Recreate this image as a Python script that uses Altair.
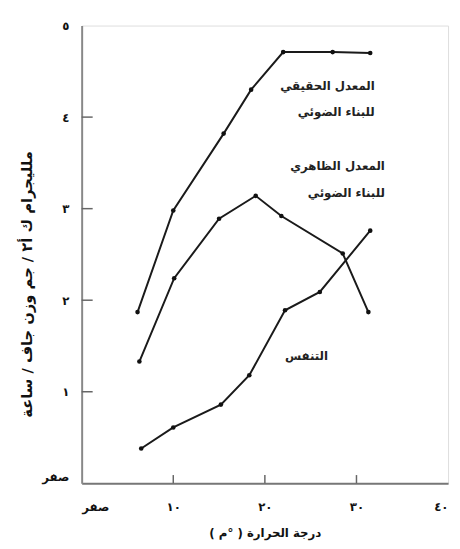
import altair as alt
import pandas as pd

# Data
true_x = [6.1, 10.0, 15.5, 18.5, 22.0, 27.4, 31.5]
true_y = [1.87, 2.98, 3.82, 4.30, 4.71, 4.71, 4.70]

app_x = [6.3, 10.1, 15.0, 19.0, 21.8, 28.5, 31.3]
app_y = [1.33, 2.24, 2.89, 3.14, 2.92, 2.51, 1.87]

resp_x = [6.5, 10.0, 15.2, 18.3, 22.2, 26.0, 31.5]
resp_y = [0.38, 0.61, 0.86, 1.18, 1.89, 2.09, 2.76]

x_ticks = [0, 10, 20, 30, 40]
x_tick_labels = ["صفر", "١٠", "٢٠", "٣٠", "٤٠"]
y_ticks = [0, 1, 2, 3, 4, 5]
y_tick_labels = ["صفر", "١", "٢", "٣", "٤", "٥"]

ann_text = ["المعدل الحقيقي", "للبناء الضوئي", "المعدل الظاهري", "للبناء الضوئي", "التنفس"]
ann_x = [32.0, 32.0, 33.1, 33.1, 26.9]
ann_y = [4.34, 4.06, 3.46, 3.17, 1.39]

x_title = "درجة الحرارة ( °م )"
y_title = "ملليجرام ك أ٢ / جم وزن جاف / ساعة"

FONT = "DejaVu Sans"

rows = []
for name, xs, ys in [("true", true_x, true_y), ("app", app_x, app_y), ("resp", resp_x, resp_y)]:
    for a, b in zip(xs, ys):
        rows.append({"series": name, "t": a, "v": b})
df = pd.DataFrame(rows)

def label_expr(vals, labs):
    expr = "''"
    for v, l in reversed(list(zip(vals, labs))):
        expr = f"datum.value == {v} ? '{l}' : ({expr})"
    return expr

xscale = alt.Scale(domain=[0, 40], nice=False, zero=True)
yscale = alt.Scale(domain=[0, 5], nice=False, zero=True)

x_axis = alt.Axis(values=x_ticks, labelExpr=label_expr(x_ticks, x_tick_labels),
                  ticks=False, grid=False, labelPadding=19, labelFont=FONT,
                  labelFontSize=12, labelFontWeight="bold", labelColor="#111",
                  domainColor="#777", domainWidth=2,
                  title=x_title, titleFont=FONT, titleFontSize=12, titleFontWeight="bold",
                  titleColor="#111", titleY=50, titleBaseline="middle")
y_axis = alt.Axis(values=y_ticks, labelExpr=label_expr(y_ticks, y_tick_labels),
                  ticks=False, grid=False, labelPadding=13, labelFont=FONT,
                  labelFontSize=12, labelFontWeight="bold", labelColor="#111",
                  labelBaseline={"condition": {"test": "datum.value == 0", "value": "bottom"}, "value": "middle"},
                  domainColor="#888", domainWidth=2,
                  title=y_title, titleFont=FONT, titleFontSize=15, titleFontWeight="bold",
                  titleColor="#111", titleX=-56, titleY=263, titleBaseline="middle")

base = alt.Chart(df)
lines = base.mark_line(color="#1a1a1a", strokeWidth=2).encode(
    x=alt.X("t:Q", scale=xscale, axis=x_axis),
    y=alt.Y("v:Q", scale=yscale, axis=y_axis),
    detail="series:N",
)
points = base.mark_circle(color="#111", size=22, opacity=1).encode(
    x=alt.X("t:Q", scale=xscale),
    y=alt.Y("v:Q", scale=yscale),
)

xt = pd.DataFrame({"t": x_ticks[1:4], "v0": [0] * 3, "v1": [0.09] * 3})
yt = pd.DataFrame({"t0": [0] * 4, "t1": [1.2] * 4, "v": y_ticks[1:5]})
xtick_rules = alt.Chart(xt).mark_rule(color="#666", strokeWidth=1.5).encode(
    x=alt.X("t:Q", scale=xscale), y=alt.Y("v0:Q", scale=yscale), y2="v1:Q")
ytick_rules = alt.Chart(yt).mark_rule(color="#666", strokeWidth=1.5).encode(
    x=alt.X("t0:Q", scale=xscale), x2="t1:Q", y=alt.Y("v:Q", scale=yscale))

ann = pd.DataFrame({"text": ann_text, "t": ann_x, "v": ann_y})
labels = alt.Chart(ann).mark_text(align="right", baseline="middle", font=FONT,
                                  fontSize=12, fontWeight="bold", color="#222").encode(
    x=alt.X("t:Q", scale=xscale), y=alt.Y("v:Q", scale=yscale), text="text:N")

chart = alt.layer(xtick_rules, ytick_rules, lines, points, labels).properties(
    width=373, height=466,
    padding={"left": 75, "top": 13, "right": 4, "bottom": 62},
    autosize="none",
).configure_view(stroke="#999", strokeWidth=1.5).configure(background="white")

chart.save("out.html", embed_options={"renderer": "svg", "actions": False})
